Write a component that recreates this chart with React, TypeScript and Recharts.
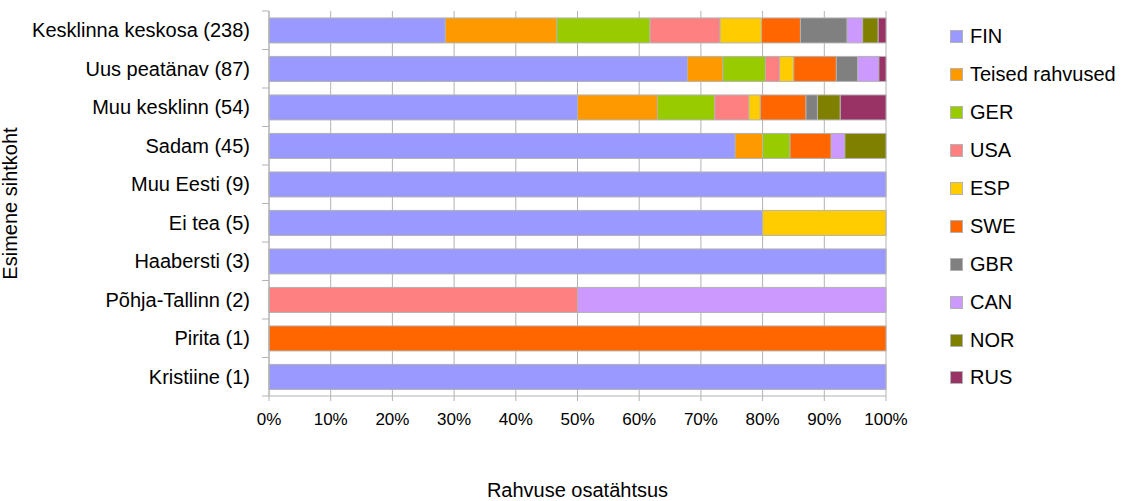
import React from 'react'
import { BarChart, Bar, XAxis, YAxis, CartesianGrid, Label } from 'recharts'

// first destination, with respondent count in brackets
const categories = [
  'Kesklinna keskosa (238)',
  'Uus peatänav (87)',
  'Muu kesklinn (54)',
  'Sadam (45)',
  'Muu Eesti (9)',
  'Ei tea (5)',
  'Haabersti (3)',
  'Põhja-Tallinn (2)',
  'Pirita (1)',
  'Kristiine (1)',
]

const seriesKeys = ['FIN', 'TEISED', 'GER', 'USA', 'ESP', 'SWE', 'GBR', 'CAN', 'NOR', 'RUS']
const seriesNames = ['FIN', 'Teised rahvused', 'GER', 'USA', 'ESP', 'SWE', 'GBR', 'CAN', 'NOR', 'RUS']
const seriesColors = ['#9999ff', '#ff9900', '#99cc00', '#ff8080', '#ffcc00', '#ff6600', '#808080', '#cc99ff', '#808000', '#993366']

// counts per category, same order as categories
const fin = [68, 59, 27, 34, 9, 4, 3, 0, 0, 1]
const teised = [43, 5, 7, 2, 0, 0, 0, 0, 0, 0]
const ger = [36, 6, 5, 2, 0, 0, 0, 0, 0, 0]
const usa = [27, 2, 3, 0, 0, 0, 0, 1, 0, 0]
const esp = [16, 2, 1, 0, 0, 1, 0, 0, 0, 0]
const swe = [15, 6, 4, 3, 0, 0, 0, 0, 1, 0]
const gbr = [18, 3, 1, 0, 0, 0, 0, 0, 0, 0]
const can = [6, 3, 0, 1, 0, 0, 0, 1, 0, 0]
const nor = [6, 0, 2, 3, 0, 0, 0, 0, 0, 0]
const rus = [3, 1, 4, 0, 0, 0, 0, 0, 0, 0]

const seriesValues = [fin, teised, ger, usa, esp, swe, gbr, can, nor, rus]

const xTicks = [0, 0.1, 0.2, 0.3, 0.4, 0.5, 0.6, 0.7, 0.8, 0.9, 1]

const data = categories.map((name, i) => {
  const row: Record<string, string | number> = { name }
  seriesKeys.forEach((key, k) => {
    row[key] = seriesValues[k][i]
  })
  return row
})

const FONT = '"Liberation Sans", Arial, sans-serif'
const GRID = '#b3b3b3'

function CategoryTick(props: any) {
  const { x, y, payload, index } = props
  const half = payload && typeof payload.offset === 'number' && payload.offset > 0 ? payload.offset : 19.25
  const axisX = x + 19
  return (
    <g>
      {index === 0 && <line x1={axisX - 7} x2={axisX} y1={y - half} y2={y - half} stroke={GRID} />}
      <line x1={axisX - 7} x2={axisX} y1={y + half} y2={y + half} stroke={GRID} />
      <text x={x} y={y} dy="0.36em" textAnchor="end" fontSize={20} fill="#000" fontFamily={FONT}>
        {payload.value}
      </text>
    </g>
  )
}

function ChartLegend() {
  return (
    <div style={{ position: 'absolute', left: 950, top: 18, fontFamily: FONT, fontSize: 20 }}>
      {seriesNames.map((name, i) => (
        <div key={name} style={{ height: 37.9, display: 'flex', alignItems: 'center' }}>
          <span
            style={{
              display: 'inline-block',
              width: 11,
              height: 11,
              background: seriesColors[i],
              border: `1px solid ${GRID}`,
              marginRight: 7,
            }}
          />
          <span style={{ color: '#000', whiteSpace: 'nowrap' }}>{name}</span>
        </div>
      ))}
    </div>
  )
}

export default function App() {
  return (
    <div style={{ position: 'absolute', left: 0, top: 0, width: 1125, height: 501, background: '#fff', fontFamily: FONT }}>
      <BarChart
        width={1125}
        height={501}
        data={data}
        layout="vertical"
        stackOffset="expand"
        barCategoryGap="18%"
        margin={{ top: 11, right: 239, bottom: 0, left: 0 }}
      >
        <CartesianGrid stroke={GRID} horizontal={false} vertical />
        <XAxis
          type="number"
          domain={[0, 1]}
          ticks={xTicks}
          tickFormatter={(v: number) => `${Math.round(v * 100)}%`}
          stroke={GRID}
          tickSize={5}
          tickMargin={12}
          height={105}
          tick={{ fill: '#000', fontSize: 17, fontFamily: FONT }}
          interval={0}
        >
          <Label
            value="Rahvuse osatähtsus"
            position="insideBottom"
            offset={4}
            style={{ fill: '#000', fontSize: 20, fontFamily: FONT }}
          />
        </XAxis>
        <YAxis
          type="category"
          dataKey="name"
          width={269}
          stroke={GRID}
          tickLine={false}
          tickSize={7}
          tickMargin={12}
          interval={0}
          tick={<CategoryTick />}
        >
          <Label
            value="Esimene sihtkoht"
            angle={-90}
            position="insideLeft"
            offset={10}
            style={{ fill: '#000', fontSize: 20, fontFamily: FONT, textAnchor: 'middle' }}
          />
        </YAxis>
        {seriesKeys.map((key, i) => (
          <Bar
            key={key}
            dataKey={key}
            name={seriesNames[i]}
            stackId="a"
            fill={seriesColors[i]}
            stroke={GRID}
            strokeWidth={1}
            isAnimationActive={false}
          />
        ))}
      </BarChart>
      <ChartLegend />
    </div>
  )
}
